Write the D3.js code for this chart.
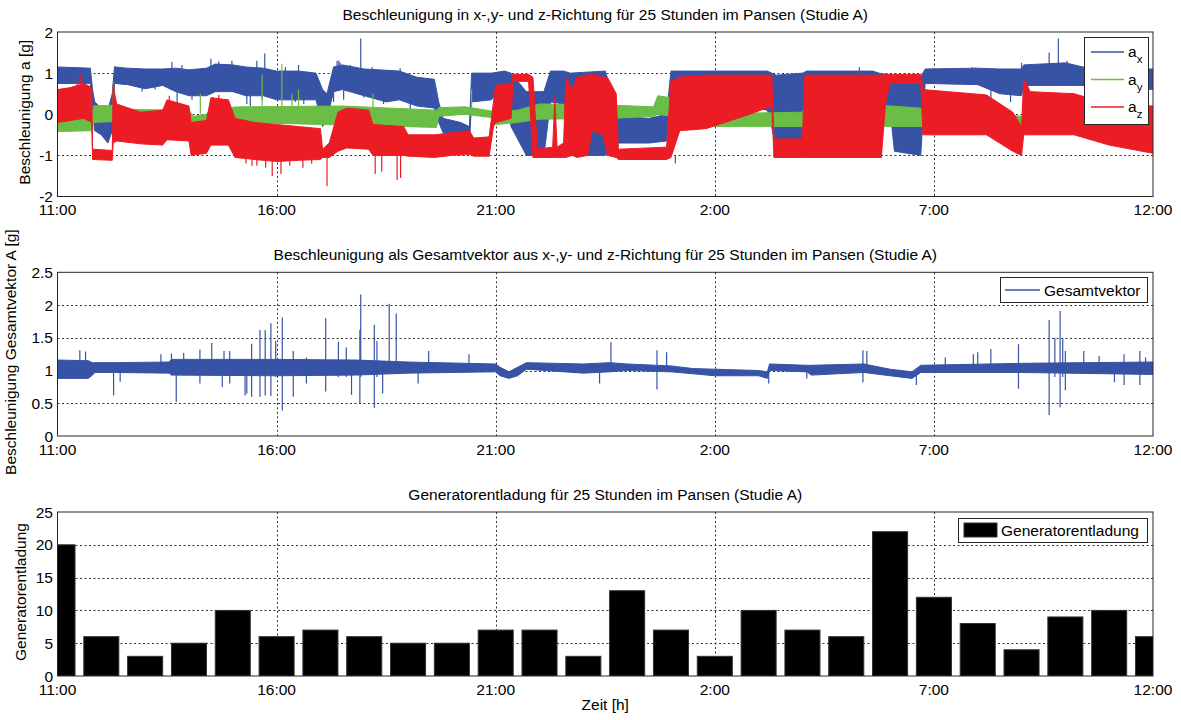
<!DOCTYPE html>
<html><head><meta charset="utf-8">
<script src="https://cdn.jsdelivr.net/npm/d3@7"></script>
<style>
html,body{margin:0;padding:0;background:#fff;}
svg{display:block;font-family:"Liberation Sans",Arial,sans-serif;}
</style></head>
<body>
<svg id="chart" width="1181" height="720"></svg>
<script>
// ---------------- DATA ----------------
// time in hours after 11:00 (0 .. 25)
const tickHours = [0, 5, 10, 15, 20, 25];
const tickLabels = ["11:00", "16:00", "21:00", "2:00", "7:00", "12:00"];

const titleTop = "Beschleunigung in x-,y- und z-Richtung für 25 Stunden im Pansen (Studie A)";
const titleMid = "Beschleunigung als Gesamtvektor aus x-,y- und z-Richtung für 25 Stunden im Pansen (Studie A)";
const titleBot = "Generatorentladung für 25 Stunden im Pansen (Studie A)";

const topTicks = [-2, -1, 0, 1, 2];
const midTicks = [0, 0.5, 1, 1.5, 2, 2.5];
const botTicks = [0, 5, 10, 15, 20, 25];

// envelope of the noisy signals: [hour, low, high]
const axBand = [
 [0,0.75,1.15],[0.75,0.75,1.12],[0.8,0.2,0.6],[0.85,-0.4,0.3],[1.0,-0.5,0.15],[1.15,-0.7,0.1],[1.25,-0.4,0.5],
 [1.3,0.75,1.15],[1.6,0.72,1.12],[2.0,0.62,1.1],[2.4,0.7,1.1],[2.7,0.55,1.12],[3.0,0.45,1.08],[3.4,0.45,1.12],
 [3.6,0.55,1.22],[4.0,0.55,1.2],[4.3,0.45,1.15],[4.7,0.45,1.12],[5.0,0.35,1.05],[5.5,0.35,1.05],[5.9,0.35,1.0],
 [6.05,-0.3,0.6],[6.15,-0.1,0.5],[6.3,0.55,1.15],[6.5,0.6,1.2],[7.0,0.45,1.1],[7.5,0.3,1.07],[7.8,0.35,1.05],
 [8.2,0.2,0.9],[8.6,0.15,0.85],[8.7,-0.2,0.3],[8.8,-0.45,-0.1],[9.2,-0.55,-0.2],[9.4,-0.75,-0.3],[9.45,0.3,1.0],
 [9.9,0.35,1.0],[10.2,0.7,1.05],[10.35,-0.3,1.0],[10.7,-1.0,0.55],[11.1,-1.0,0.55],[11.25,0.3,1.05],[11.55,0.25,1.05],
 [11.7,-1.0,1.0],[12.5,-1.0,1.05],[12.8,-0.7,-0.05],[13.5,-0.7,-0.1],[13.9,-0.65,0.0],[14.0,0.8,1.05],[14.8,0.3,1.05],
 [15.5,0.2,1.05],[16.2,0.1,1.05],[16.4,-0.75,0.95],[17.0,-0.8,1.0],[17.1,-1.05,1.05],[18.6,-1.05,1.05],[18.75,0.15,1.0],
 [19.0,0.1,0.95],[19.1,-0.9,0.9],[19.7,-1.0,0.9],[19.8,0.75,1.1],[21.0,0.72,1.12],[21.5,0.5,1.1],[22.0,0.45,1.1],
 [22.05,0.7,1.2],[23.0,0.7,1.25],[23.4,0.7,1.15],[24.0,0.7,1.1],[25.0,0.6,1.1]
];
const ayBand = [
 [0,-0.42,-0.08],[0.8,-0.4,-0.05],[0.82,-0.2,0.2],[1.25,-0.18,0.22],[1.3,-0.32,0.12],[3.0,-0.3,0.1],[3.1,-0.28,-0.05],
 [3.4,-0.3,0.0],[3.5,-0.25,0.15],[4.2,-0.2,0.18],[6.5,-0.26,0.2],[8.65,-0.32,0.1],[8.7,-0.05,0.16],[9.3,0.0,0.18],
 [9.9,-0.08,0.08],[10.0,-0.25,0.06],[10.5,-0.2,0.1],[11.0,-0.12,0.25],[12.7,-0.1,0.22],[13.6,-0.05,0.18],[13.7,0.0,0.45],
 [14.0,-0.05,0.4],[14.3,-0.3,0.0],[17.0,-0.3,0.05],[17.1,-0.3,0.35],[19.0,-0.3,0.2],[19.7,-0.3,0.15],[21.5,-0.35,0.0],
 [22.0,-0.35,-0.05],[24.5,-0.3,0.0],[25.0,-0.2,0.1]
];
const azBand = [
 [0,-0.2,0.6],[0.3,-0.15,0.65],[0.6,-0.1,0.75],[0.78,-0.2,0.65],[0.8,-1.1,-0.85],[1.25,-1.12,-0.88],[1.27,-0.7,0.7],
 [1.35,-0.65,0.25],[1.9,-0.72,0.05],[2.4,-0.75,0.1],[2.5,-0.62,0.35],[3.0,-0.65,0.2],[3.05,-1.0,-0.2],[3.4,-0.95,-0.15],
 [3.5,-0.75,0.4],[3.9,-0.75,0.35],[4.05,-1.05,-0.1],[4.5,-1.1,-0.2],[5.0,-1.15,-0.25],[5.5,-1.12,-0.3],[6.0,-1.1,-0.35],
 [6.05,-1.05,-0.85],[6.2,-1.05,-0.7],[6.4,-0.9,0.05],[6.6,-0.82,0.15],[7.1,-0.85,0.1],[7.2,-1.0,-0.25],[7.9,-1.0,-0.3],
 [8.0,-1.02,-0.5],[8.6,-1.05,-0.5],[9.0,-1.0,-0.45],[9.4,-0.98,-0.4],[9.5,-1.02,-0.58],[9.85,-1.02,-0.55],[9.95,-0.3,0.3],
 [10.0,-0.2,0.7],[10.35,-0.1,0.75],[10.4,0.8,0.97],[10.75,0.8,0.97],[10.85,-1.05,0.9],[10.95,-1.05,-0.85],[11.3,-1.05,-0.8],
 [11.35,-1.05,0.4],[11.4,-1.05,-0.8],[11.55,-1.05,-0.7],[11.6,-1.05,0.9],[11.75,-1.0,0.6],[11.85,-1.05,0.9],[12.1,-1.0,0.95],
 [12.2,-0.4,0.97],[12.45,-0.5,0.9],[12.55,-1.0,0.9],[12.75,-1.05,0.5],[12.8,-1.1,-0.85],[13.9,-1.1,-0.8],[14.0,-1.05,0.8],
 [14.2,-0.4,0.9],[14.8,-0.35,0.95],[15.8,0.0,0.95],[16.3,0.2,0.95],[16.35,-1.05,-0.6],[17.0,-1.05,-0.6],[17.05,-1.05,0.95],
 [18.8,-1.05,0.95],[18.9,0.3,0.97],[19.0,0.75,0.97],[19.7,0.75,0.97],[19.75,-0.5,0.6],[21.2,-0.5,0.47],[21.8,-0.9,0.05],
 [22.0,-1.0,-0.3],[22.05,-0.5,0.87],[22.2,-0.5,0.55],[23.2,-0.5,0.5],[24.0,-0.75,0.25],[25.0,-0.95,0.2]
];
// isolated spikes: [hour, from, to]
const axSpikes = [
 [1.32,1.1,1.17],[2.61,1.1,1.27],[2.84,1.1,1.2],[3.5,1.1,1.35],[3.68,1.1,1.28],[3.98,1.1,1.3],[4.55,1.1,1.3],[4.73,1.0,1.48],
 [5.2,1.0,1.15],[5.5,1.0,1.2],[6.42,1.1,1.3],[1.93,0.7,0.55],[2.23,0.7,0.6],[2.73,0.6,0.25],[3.07,0.5,0.35],[3.3,0.5,0.45],
 [4.32,0.5,0.25],[4.4,0.5,0.2],[4.67,0.5,0.35],[5.43,0.4,0.3],[5.62,0.4,0.25],[5.96,0.4,0.1],[6.3,0.6,0.3],
 [6.38,1.1,1.3],[6.45,1.1,1.25],[6.68,1.1,1.2],[6.92,1.1,1.84],[7.18,1.0,1.15],[7.82,1.0,1.12],[6.53,0.6,0.35],[6.99,0.5,0.4],
 [7.44,0.35,0.25],[8.05,0.3,0.1],[19.9,1.05,1.1],[20.88,1.05,1.15],[20.95,1.05,1.13],[22.0,1.1,1.25],[22.63,1.1,1.5],
 [22.84,1.1,1.84],[23.04,1.1,1.3],[21.3,0.6,0.35],[21.75,0.5,0.3]
];
const aySpikes = [[5.12,0.1,1.23],[4.67,0.1,0.95],[5.5,0.1,0.6],[3.26,0.0,0.5],[5.35,0.1,0.5],[9.45,0.1,0.6],[7.2,0.1,0.5],[1.27,0.1,0.8]];
const azSpikes = [
 [0.45,0.6,0.9],[0.52,0.6,0.97],[1.28,0.5,0.75],[2.55,0.3,0.45],[3.68,0.3,0.47],[3.55,0.3,0.42],
 [4.3,-1.0,-1.2],[4.55,-1.0,-1.25],[4.75,-1.0,-1.3],[4.9,-1.0,-1.5],[5.1,-1.0,-1.45],[5.3,-1.0,-1.25],[5.6,-1.0,-1.3],
 [5.8,-1.0,-1.2],[4.44,-1.0,-1.25],[6.15,-1.0,-1.75],[7.25,-0.9,-1.45],[7.75,-0.9,-1.6],[7.83,-0.9,-1.55],[7.4,-0.9,-1.4],
 [18.3,0.9,1.15],[14.1,-1.0,-1.2]
];

// total vector: band [hour, low, high] and spikes [hour, low, high]
const gesBand = [
 [0,0.88,1.16],[0.7,0.88,1.15],[0.8,0.93,1.12],[0.85,0.97,1.12],[1.3,0.97,1.12],[2.55,0.96,1.13],[2.6,0.93,1.17],
 [5.0,0.92,1.17],[6.8,0.93,1.16],[8.0,0.96,1.13],[10.0,0.98,1.1],[10.1,0.92,1.05],[10.3,0.88,0.98],[10.5,0.92,1.05],
 [10.7,1.02,1.12],[12.0,0.96,1.1],[12.6,0.98,1.12],[13.0,1.0,1.1],[14.0,0.98,1.07],[14.5,0.95,1.03],[15.0,0.92,1.02],
 [16.0,0.92,1.0],[16.2,0.88,0.98],[16.25,1.0,1.1],[17.1,0.98,1.08],[17.2,0.93,1.08],[18.4,0.97,1.1],[19.0,0.92,1.02],
 [19.5,0.88,0.98],[19.7,0.97,1.08],[22.0,0.97,1.11],[25.0,0.94,1.13]
];
const gesSpikes = [
 [0.51,1.0,1.31],[0.64,1.0,1.29],[1.28,0.62,1.05],[1.43,0.83,1.05],[2.36,1.0,1.25],[2.6,1.0,1.26],[2.71,0.52,1.05],
 [2.88,1.0,1.27],[3.25,0.8,1.32],[3.52,1.0,1.42],[3.76,0.75,1.05],[3.8,1.0,1.3],[3.93,0.8,1.3],[4.28,0.62,1.1],
 [4.32,0.65,1.1],[4.43,0.6,1.41],[4.62,0.6,1.62],[4.74,0.62,1.62],[4.87,0.61,1.72],[4.98,0.9,1.45],[5.13,0.39,1.81],
 [5.38,0.6,1.3],[5.68,0.8,1.2],[6.12,0.68,1.8],[6.41,0.9,1.44],[6.59,0.9,1.35],[6.71,0.63,1.1],[6.9,0.5,1.62],
 [6.92,0.9,2.16],[7.23,0.43,1.7],[7.29,0.9,1.45],[7.42,0.65,1.1],[7.57,1.0,2.02],[7.73,1.0,1.87],[8.23,0.8,1.1],
 [8.47,1.0,1.3],[9.39,1.0,1.25],
 [12.37,0.8,1.05],[12.63,1.0,1.43],[13.68,0.71,1.31],[13.9,1.0,1.28],[16.23,0.8,1.0],[17.1,0.88,1.0],
 [18.38,0.82,1.31],[18.47,1.0,1.3],[19.6,0.78,1.0],[20.26,1.0,1.2],[20.9,1.0,1.25],[21.0,1.0,1.28],[21.3,1.0,1.33],
 [21.93,0.72,1.4],[22.63,0.32,1.77],[22.76,0.9,1.5],[22.88,0.44,1.91],[22.94,0.9,1.5],[23.0,0.7,1.3],
 [23.42,1.0,1.3],[23.77,1.0,1.22],[24.12,0.82,1.0],[24.34,0.78,1.25],[24.7,0.78,1.3],[24.83,1.0,1.2]
];

// hourly generator discharges, bars centred on each full hour 11:00 .. 12:00
const barHours = [0,1,2,3,4,5,6,7,8,9,10,11,12,13,14,15,16,17,18,19,20,21,22,23,24,25];
const barValues = [20,6,3,5,10,6,7,6,5,5,7,7,3,13,7,3,10,7,6,22,12,8,4,9,10,6];

// ---------------- DRAWING ----------------
const svg = d3.select("#chart");
const COL = {ax:"#3653a5", ay:"#6abd45", az:"#ec1c24", ges:"#3653a5"};
const L = 57.5, R = 1153;
const x = d3.scaleLinear().domain([0, 25]).range([L, R]);
const FS = 15.5;

function panel(id, yTop, yBot, dom, ticks, title, ylabel, ylabX) {
  const y = d3.scaleLinear().domain(dom).range([yBot, yTop]);
  const g = svg.append("g");
  g.append("clipPath").attr("id", id).append("rect")
    .attr("x", L).attr("y", yTop).attr("width", R - L).attr("height", yBot - yTop);
  g.append("rect").attr("x", L).attr("y", yTop).attr("width", R - L).attr("height", yBot - yTop).attr("fill", "#fff");
  const grid = g.append("g").attr("stroke", "#333").attr("stroke-width", 1).attr("stroke-dasharray", "2,2.5");
  ticks.forEach(t => {
    if (t === dom[0] || t === dom[1]) return;
    grid.append("line").attr("x1", L).attr("x2", R).attr("y1", Math.round(y(t)) + 0.5).attr("y2", Math.round(y(t)) + 0.5);
  });
  tickHours.forEach(h => {
    if (h === 0 || h === 25) return;
    grid.append("line").attr("x1", Math.round(x(h)) + 0.5).attr("x2", Math.round(x(h)) + 0.5).attr("y1", yTop).attr("y2", yBot);
  });
  const content = g.append("g").attr("clip-path", `url(#${id})`);
  const overlay = g.append("g");
  overlay.append("rect").attr("x", L).attr("y", yTop).attr("width", R - L).attr("height", yBot - yTop)
    .attr("fill", "none").attr("stroke", "#262626").attr("stroke-width", 1);
  overlay.selectAll(".yl").data(ticks).join("text")
    .attr("x", 53).attr("y", d => y(d) + 5.5).attr("text-anchor", "end")
    .attr("font-size", FS).attr("fill", "#000").text(d => d);
  overlay.selectAll(".xl").data(tickHours).join("text")
    .attr("x", d => x(d)).attr("y", yBot + 18.5).attr("text-anchor", "middle")
    .attr("font-size", FS).attr("fill", "#000").text((d, i) => tickLabels[i]);
  overlay.append("text").attr("x", (L + R) / 2).attr("y", yTop - 12.5).attr("text-anchor", "middle")
    .attr("font-size", FS).attr("fill", "#000").text(title);
  overlay.append("text").attr("transform", `translate(${ylabX},${(yTop + yBot) / 2 - 2}) rotate(-90)`)
    .attr("text-anchor", "middle").attr("font-size", FS).attr("fill", "#000").text(ylabel);
  return {y, content, overlay};
}

function band(p, data, col) {
  const area = d3.area().x(d => x(d[0])).y0(d => p.y(d[1])).y1(d => p.y(d[2]));
  p.content.append("path").datum(data).attr("d", area).attr("fill", col)
    .attr("stroke", col).attr("stroke-width", 1);
}
function spikes(p, data, col) {
  p.content.selectAll(null).data(data).join("line")
    .attr("x1", d => x(d[0])).attr("x2", d => x(d[0]))
    .attr("y1", d => p.y(d[1])).attr("y2", d => p.y(d[2]))
    .attr("stroke", col).attr("stroke-width", 1.2);
}

// ---- top panel ----
const P1 = panel("c1", 32, 196.5, [-2, 2], topTicks, titleTop, "Beschleunigung a [g]", 30);
band(P1, axBand, COL.ax); spikes(P1, axSpikes, COL.ax);
band(P1, ayBand, COL.ay); spikes(P1, aySpikes, COL.ay);
band(P1, azBand, COL.az); spikes(P1, azSpikes, COL.az);

const lg1 = P1.overlay.append("g");
lg1.append("rect").attr("x", 1084.5).attr("y", 37.5).attr("width", 64).attr("height", 87)
  .attr("fill", "#fff").attr("stroke", "#262626");
[["x", COL.ax, 52], ["y", COL.ay, 79.5], ["z", COL.az, 107]].forEach(([s, c, yy]) => {
  lg1.append("line").attr("x1", 1091).attr("x2", 1124).attr("y1", yy).attr("y2", yy).attr("stroke", c).attr("stroke-width", 1.5);
  const t = lg1.append("text").attr("x", 1128).attr("y", yy + 5).attr("font-size", FS).attr("fill", "#000");
  t.append("tspan").text("a");
  t.append("tspan").attr("dy", 6).attr("font-size", 11.5).text(s);
});

// ---- middle panel ----
const P2 = panel("c2", 272.3, 436, [0, 2.5], midTicks, titleMid, "Beschleunigung Gesamtvektor A [g]", 16);
band(P2, gesBand, COL.ges); spikes(P2, gesSpikes, COL.ges);
const lg2 = P2.overlay.append("g");
lg2.append("rect").attr("x", 1000.5).attr("y", 277.5).attr("width", 147).attr("height", 25)
  .attr("fill", "#fff").attr("stroke", "#262626");
lg2.append("line").attr("x1", 1005).attr("x2", 1040).attr("y1", 290).attr("y2", 290).attr("stroke", COL.ges).attr("stroke-width", 1.5);
lg2.append("text").attr("x", 1044).attr("y", 295.5).attr("font-size", FS).attr("fill", "#000").text("Gesamtvektor");

// ---- bottom panel ----
const P3 = panel("c3", 512, 676, [0, 25], botTicks, titleBot, "Generatorentladung", 25.5);
const bw = (x(1) - x(0)) * 0.8;
P3.content.selectAll(".bar").data(barValues).join("rect")
  .attr("x", (d, i) => x(barHours[i]) - bw / 2).attr("width", bw)
  .attr("y", d => P3.y(d)).attr("height", d => P3.y(0) - P3.y(d))
  .attr("fill", "#000").attr("stroke", "#333").attr("stroke-width", 1);
const lg3 = P3.overlay.append("g");
lg3.append("rect").attr("x", 958.5).attr("y", 518.5).attr("width", 189).attr("height", 24)
  .attr("fill", "#fff").attr("stroke", "#262626");
lg3.append("rect").attr("x", 964).attr("y", 523).attr("width", 33).attr("height", 14).attr("fill", "#000").attr("stroke", "#333");
lg3.append("text").attr("x", 1001).attr("y", 536).attr("font-size", FS).attr("fill", "#000").text("Generatorentladung");
P3.overlay.append("text").attr("x", (L + R) / 2).attr("y", 710).attr("text-anchor", "middle")
  .attr("font-size", FS).attr("fill", "#000").text("Zeit [h]");
</script>
</body></html>
